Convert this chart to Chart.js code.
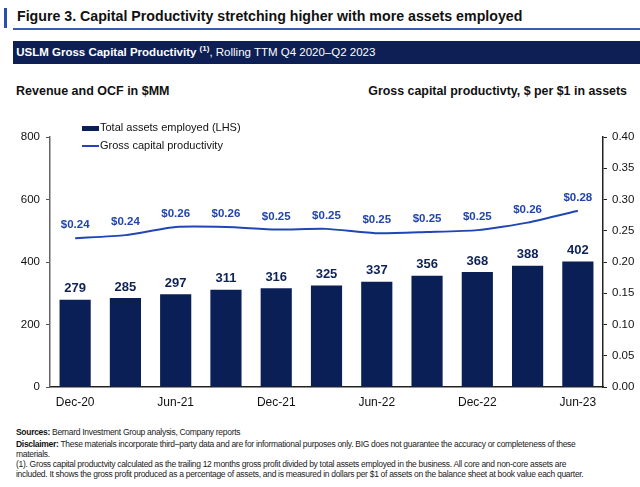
<!DOCTYPE html>
<html>
<head>
<meta charset="utf-8">
<script src="https://cdn.jsdelivr.net/npm/chart.js@4"></script>
<style>
    body { margin: 0; width: 640px; height: 487px; background: #fff; font-family: "Liberation Sans", Arial, sans-serif; position: relative; overflow: hidden; }
    .abs { position: absolute; white-space: nowrap; }
    #mark { left: 4px; top: 8px; width: 3px; height: 20px; background: #2a4fae; }
    #title { left: 17px; top: 8px; font-size: 14.2px; font-weight: bold; color: #111; }
    #rule { left: 13px; top: 28px; width: 627px; height: 2px; background: #3b5cb5; }
    #banner { left: 13px; top: 41px; width: 627px; height: 23px; background: #0d1f55; color: #fff; font-size: 11.5px; line-height: 23px; }
    #banner span.b { font-weight: bold; }
    #banner sup { font-size: 8px; font-weight: bold; vertical-align: 5px; line-height: 0; }
    #lhs { left: 16px; top: 84px; font-size: 12.5px; font-weight: bold; color: #111; }
    #rhs { right: 13px; top: 84px; font-size: 12.4px; font-weight: bold; color: #111; }
    #legend { left: 82px; top: 118px; font-size: 11px; color: #111; }
    #legend div { height: 18px; line-height: 18px; }
    #legend i { display: inline-block; width: 17px; vertical-align: middle; margin-right: 1px; }
    #foot { left: 16px; top: 427px; font-size: 8.5px; line-height: 10px; color: #222; letter-spacing: -0.3px; }
    #foot b { color: #111; }
    #foot .src { margin-bottom: 2px; }
    #wrap { position: absolute; left: 0; top: 100px; width: 640px; height: 320px; }
</style>
</head>
<body>
<div class="abs" id="mark"></div>
<div class="abs" id="title">Figure 3. Capital Productivity stretching higher with more assets employed</div>
<div class="abs" id="rule"></div>
<div class="abs" id="banner">&nbsp;<span class="b">USLM Gross Capital Productivity <sup>(1)</sup></span>, Rolling TTM Q4 2020–Q2 2023</div>
<div class="abs" id="lhs">Revenue and OCF in $MM</div>
<div class="abs" id="rhs">Gross capital productivty, $ per $1 in assets</div>
<div id="wrap"><canvas id="chart"></canvas></div>
<div class="abs" id="legend">
    <div><i style="height:5px;background:#0b1f57"></i>Total assets employed (LHS)</div>
    <div><i style="height:2px;background:#2046b4"></i>Gross capital productivity</div>
</div>
<div class="abs" id="foot">
    <div class="src"><b>Sources:</b> Bernard Investment Group analysis, Company reports</div>
    <b>Disclaimer:</b> These materials incorporate third–party data and are for informational purposes only. BIG does not guarantee the accuracy or completeness of these<br>
    materials.<br>
    (1). Gross capital productvity calculated as the trailing 12 months gross profit divided by total assets employed in the business. All core and non-core assets are<br>
    included. It shows the gross profit produced as a percentage of assets, and is measured in dollars per $1 of assets on the balance sheet at book value each quarter.
</div>
<script>
const quarters = ["Dec-20", "Mar-21", "Jun-21", "Sep-21", "Dec-21", "Mar-22", "Jun-22", "Sep-22", "Dec-22", "Mar-23", "Jun-23"];
const total_assets = [279, 285, 297, 311, 316, 325, 337, 356, 368, 388, 402];
const productivity = [0.238, 0.243, 0.256, 0.256, 0.252, 0.253, 0.246, 0.248, 0.251, 0.263, 0.282];

const bar_color = "#0b1f57";
const line_color = "#2046b4";

// draws the numbers above bars and line points
const value_labels = {
    id: "value_labels",
    afterDatasetsDraw(chart) {
        const ctx = chart.ctx;
        ctx.save();
        ctx.textAlign = "center";
        ctx.textBaseline = "middle";
        chart.data.datasets.forEach((ds, i) => {
            const meta = chart.getDatasetMeta(i);
            meta.data.forEach((el, j) => {
                if (ds.type == "bar") {
                    ctx.font = "bold 13px 'Liberation Sans', Arial";
                    ctx.fillStyle = "#0e2258";
                    ctx.fillText(ds.data[j], el.x, el.y - 11);
                } else {
                    ctx.font = "bold 11.5px 'Liberation Sans', Arial";
                    ctx.fillStyle = "#2245ad";
                    ctx.fillText("$" + ds.data[j].toFixed(2), el.x, el.y - 13);
                }
            });
        });
        ctx.restore();
    }
};

new Chart(document.getElementById("chart"), {
    data: {
        labels: quarters,
        datasets: [
            {
                type: "line",
                label: "Gross capital productivity",
                data: productivity,
                yAxisID: "y1",
                borderColor: line_color,
                borderWidth: 2,
                pointRadius: 0,
                tension: 0.2,
                order: 0
            },
            {
                type: "bar",
                label: "Total assets employed (LHS)",
                data: total_assets,
                yAxisID: "y",
                backgroundColor: bar_color,
                barPercentage: 0.62,
                categoryPercentage: 1,
                order: 1
            }
        ]
    },
    options: {
        responsive: true,
        maintainAspectRatio: false,
        animation: false,
        layout: { padding: { top: 37, left: 0, right: 0, bottom: 0 } },
        plugins: {
            legend: { display: false },
            tooltip: { enabled: false }
        },
        scales: {
            x: {
                grid: { display: false, drawTicks: false },
                border: { color: "#222", width: 1.5 },
                ticks: {
                    autoSkip: false,
                    maxRotation: 0,
                    padding: 8,
                    color: "#111",
                    font: { size: 12, family: "'Liberation Sans', Arial" },
                    callback: function (v, i) { return i % 2 == 0 ? quarters[i] : null; }
                },
                afterFit(scale) { scale.height = 33; }
            },
            y: {
                position: "left",
                min: 0,
                max: 800,
                ticks: {
                    stepSize: 200,
                    padding: 6,
                    color: "#111",
                    font: { size: 11.5, family: "'Liberation Sans', Arial" }
                },
                grid: { drawOnChartArea: false, tickLength: 4, color: "#555" },
                border: { color: "#666", width: 1.5 },
                afterFit(scale) { scale.width = 50; }
            },
            y1: {
                position: "right",
                min: 0,
                max: 0.4,
                ticks: {
                    stepSize: 0.05,
                    padding: 5,
                    color: "#111",
                    font: { size: 11.5, family: "'Liberation Sans', Arial" },
                    callback: (v) => v.toFixed(2)
                },
                grid: { drawOnChartArea: false, tickLength: 4, color: "#222" },
                border: { color: "#222", width: 1.5 },
                afterFit(scale) { scale.width = 37; }
            }
        }
    },
    plugins: [value_labels]
});
</script>
</body>
</html>
